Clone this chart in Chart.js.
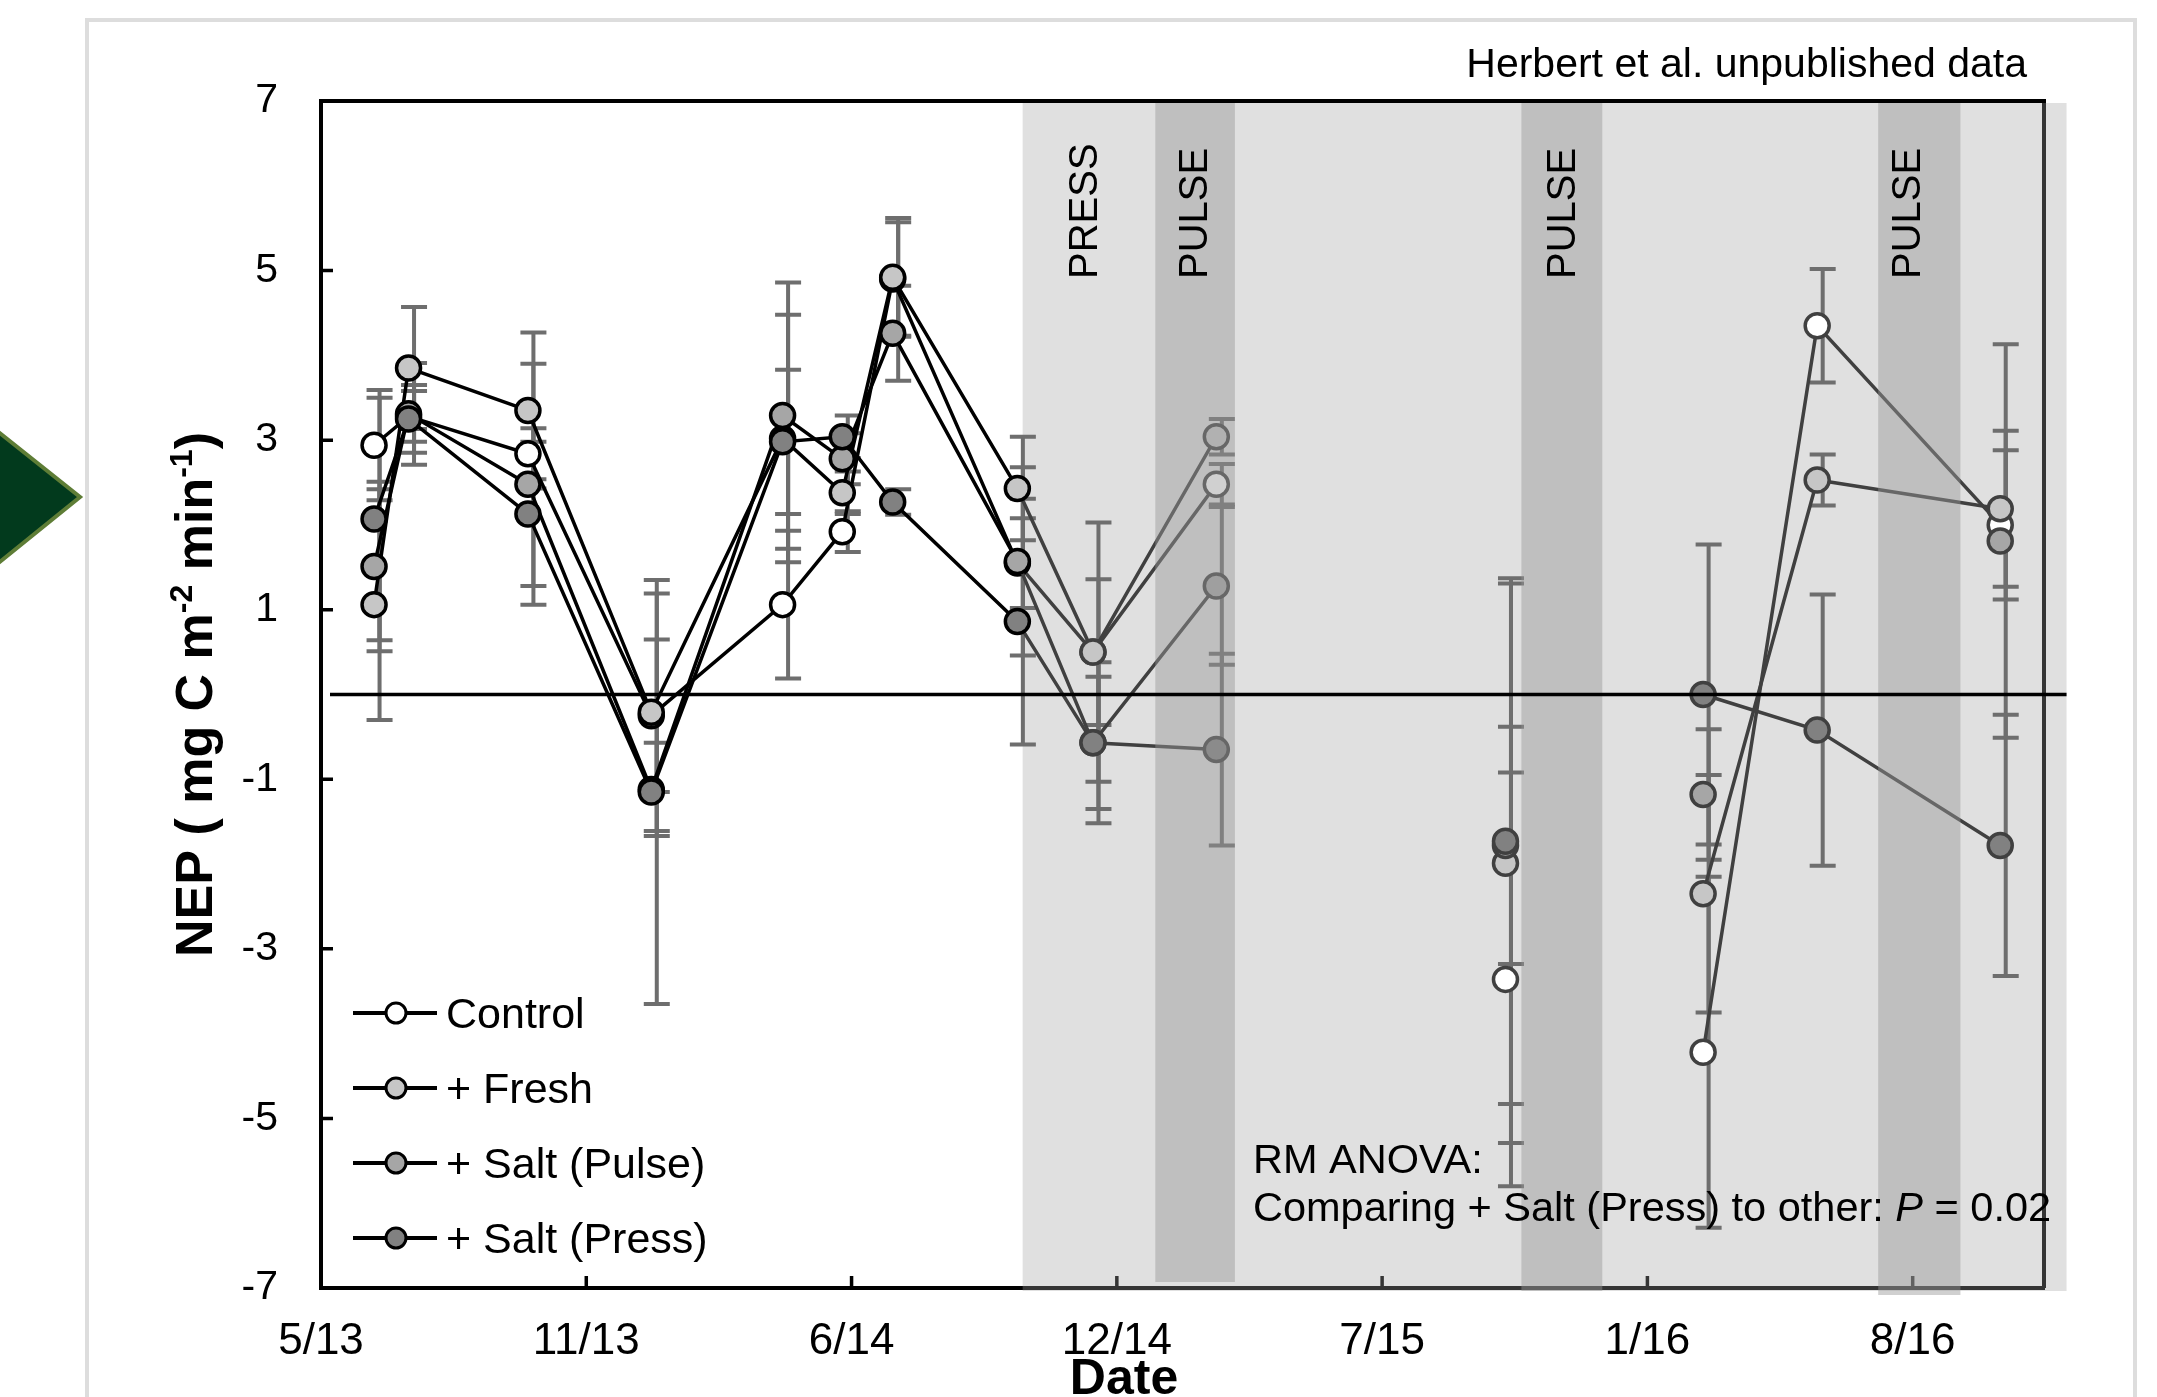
<!DOCTYPE html>
<html>
<head>
<meta charset="utf-8">
<title>NEP by treatment</title>
<script src="https://cdn.jsdelivr.net/npm/chart.js@4.4.1/dist/chart.umd.min.js"></script>
<style>
  html, body { margin: 0; padding: 0; background: #fff; }
  canvas { display: block; }
</style>
</head>
<body>
<canvas id="nepChart" width="2157" height="1397"></canvas>
<script>
// sampling dates, as days after 1 May 2013
const sampleDays = [40, 66, 156, 249, 348, 393, 431, 525, 582, 675, 893, 1042, 1128, 1266];
const dateTickDays = [0, 200, 400, 600, 800, 1000, 1200];
const dateTickLabels = ['5/13', '11/13', '6/14', '12/14', '7/15', '1/16', '8/16'];
const nepTicks = [-7, -5, -3, -1, 1, 3, 5, 7];

// NEP (mg C m-2 min-1), mean and SE per treatment
const controlNEP = [2.94, 3.28, 2.84, -0.25, 1.06, 1.92, 4.90, 1.55, 0.50, 2.48, -3.36, -4.22, 4.35, 2.00];
const freshNEP   = [1.06, 3.85, 3.35, -0.21, 3.02, 2.38, 4.92, 2.43, 0.50, 3.04, -1.99, -2.35, 2.53, 2.19];
const pulseNEP   = [1.51, 3.31, 2.48, -1.12, 3.29, 2.78, 4.26, 1.57, -0.57, 1.28, -1.78, -1.18, null, 1.81];
const pressNEP   = [2.07, 3.25, 2.13, -1.15, 2.98, 3.04, 2.27, 0.86, -0.57, -0.65, -1.73, 0.00, -0.42, -1.78];

const controlSE = [0.65, 0.30, 0.30, 0.90, 0.87, 0.24, 0.67, 0.53, 0.86, 0.24, 2.44, 2.07, 0.67, 0.88];
const freshSE   = [1.36, 0.72, 0.92, 1.40, 1.46, 0.25, 0.70, 0.61, 1.53, 0.21, 3.30, 1.40, 0.30, 0.92];
const pulseSE   = [1.00, 0.60, 1.42, 0.55, 1.57, 0.30, 0.56, 1.11, 0.78, 0.93, 1.40, 0.77, null, 2.32];
const pressSE   = [1.43, 0.40, 0.85, 2.50, 0.85, 0.25, 0.15, 1.45, 0.95, 1.13, 3.10, 1.77, 1.60, 1.54];

// sampling intervals that are not joined by a line (index of the first sample)
const breakAfter = [9, 10];

// treatment periods, in days
const pressPeriod = [529, 1316];
const pulsePeriods = [[629, 689], [905, 966], [1174, 1236]];
const periodLabels = ['PRESS', 'PULSE', 'PULSE', 'PULSE'];
const periodLabelDays = [577, 660, 937, 1197];

const FONT = "'Liberation Sans', Arial, sans-serif";

function toPoints(values) {
    return values.map((v, i) => ({ x: sampleDays[i], y: v }));
}

function makeDataset(label, values, errors, fill, order) {
    return {
        label: label,
        data: toPoints(values),
        errors: errors,
        order: order,
        borderWidth: 3.5,
        borderColor: '#000',
        backgroundColor: fill,
        pointBackgroundColor: fill,
        pointBorderColor: c => c.dataIndex >= 8 ? '#404040' : '#000',
        pointBorderWidth: 3.5,
        pointRadius: 12,
        pointHoverRadius: 12,
        tension: 0,
        spanGaps: false,
        segment: {
            borderColor: c => breakAfter.includes(c.p0DataIndex) ? 'rgba(0,0,0,0)'
                : (c.p0DataIndex >= 7 ? '#404040' : '#000')
        }
    };
}

function drawRuns(ctx, runs, x, y, align) {
    // runs: [text, size, weight, style, raise]
    let total = 0;
    runs.forEach(r => {
        ctx.font = `${r[3] || 'normal'} ${r[2] || 'normal'} ${r[1]}px ${FONT}`;
        total += ctx.measureText(r[0]).width;
    });
    let cx = align === 'center' ? x - total / 2 : x;
    ctx.textAlign = 'left';
    ctx.textBaseline = 'alphabetic';
    runs.forEach(r => {
        ctx.font = `${r[3] || 'normal'} ${r[2] || 'normal'} ${r[1]}px ${FONT}`;
        ctx.fillText(r[0], cx, y - (r[4] || 0));
        cx += ctx.measureText(r[0]).width;
    });
}

const figurePlugin = {
    id: 'figure',
    beforeDraw(chart) {
        const ctx = chart.ctx;
        ctx.save();
        ctx.strokeStyle = '#dddddd';
        ctx.lineWidth = 4;
        ctx.strokeRect(87, 20, 2048, 1420);

        ctx.beginPath();
        ctx.moveTo(-4, 430);
        ctx.lineTo(80, 497);
        ctx.lineTo(-4, 565);
        ctx.closePath();
        ctx.fillStyle = '#023a1d';
        ctx.fill();
        ctx.strokeStyle = '#5e7d36';
        ctx.lineWidth = 4;
        ctx.stroke();
        ctx.restore();
    },
    beforeDatasetsDraw(chart) {
        const { ctx, chartArea: a, scales: { x, y } } = chart;
        ctx.save();

        // top and right of the plot box
        ctx.strokeStyle = '#000';
        ctx.lineWidth = 4;
        ctx.beginPath();
        ctx.moveTo(a.left - 2, a.top);
        ctx.lineTo(a.right, a.top);
        ctx.lineTo(a.right, a.bottom);
        ctx.stroke();

        // inward tick marks
        ctx.lineWidth = 3.5;
        ctx.beginPath();
        y.ticks.forEach(t => {
            if (t.value > y.min && t.value < y.max) {
                const py = y.getPixelForValue(t.value);
                ctx.moveTo(a.left, py);
                ctx.lineTo(a.left + 12, py);
            }
        });
        x.ticks.forEach(t => {
            if (t.value > x.min) {
                const px = x.getPixelForValue(t.value);
                ctx.moveTo(px, a.bottom);
                ctx.lineTo(px, a.bottom - 12);
            }
        });
        ctx.stroke();

        // press period
        const p0 = x.getPixelForValue(pressPeriod[0]);
        const p1 = x.getPixelForValue(pressPeriod[1]);
        ctx.fillStyle = 'rgba(160,160,160,0.33)';
        ctx.fillRect(p0, a.top + 2, p1 - p0, a.bottom - a.top + 1);

        // error bars
        ctx.strokeStyle = '#6e6e6e';
        ctx.lineWidth = 4;
        chart.data.datasets.forEach((ds, di) => {
            const meta = chart.getDatasetMeta(di);
            ds.errors.forEach((e, i) => {
                const v = ds.data[i].y;
                if (v === null || e === null) return;
                const px = meta.data[i].x + 5.5;
                const top = y.getPixelForValue(v + e);
                const bot = y.getPixelForValue(v - e);
                ctx.beginPath();
                ctx.moveTo(px, top);
                ctx.lineTo(px, bot);
                ctx.moveTo(px - 13, top);
                ctx.lineTo(px + 13, top);
                ctx.moveTo(px - 13, bot);
                ctx.lineTo(px + 13, bot);
                ctx.stroke();
            });
        });
        ctx.restore();
    },
    afterDatasetsDraw(chart) {
        const { ctx, chartArea: a, scales: { x, y } } = chart;
        ctx.save();

        // pulse periods
        ctx.fillStyle = 'rgba(150,150,150,0.45)';
        pulsePeriods.forEach((p, i) => {
            const b0 = x.getPixelForValue(p[0]);
            const b1 = x.getPixelForValue(p[1]);
            const bottom = i === 0 ? a.bottom - 6 : a.bottom + 3 + 4 * (i - 1);
            ctx.fillRect(b0, a.top + 2, b1 - b0, bottom - a.top - 2);
        });

        // zero line
        ctx.strokeStyle = '#000';
        ctx.lineWidth = 3.5;
        const zy = y.getPixelForValue(0);
        ctx.beginPath();
        ctx.moveTo(a.left + 9, zy);
        ctx.lineTo(x.getPixelForValue(pressPeriod[1]), zy);
        ctx.stroke();

        // period labels
        ctx.fillStyle = '#000';
        ctx.font = `40px ${FONT}`;
        ctx.textAlign = 'left';
        ctx.textBaseline = 'middle';
        periodLabels.forEach((t, i) => {
            ctx.save();
            ctx.translate(x.getPixelForValue(periodLabelDays[i]), 279);
            ctx.rotate(-Math.PI / 2);
            ctx.fillText(t, 0, 0);
            ctx.restore();
        });

        // legend
        const rows = [1013, 1088, 1163, 1238];
        chart.data.datasets.forEach((ds, i) => {
            const ry = rows[i];
            ctx.strokeStyle = '#000';
            ctx.lineWidth = 4;
            ctx.beginPath();
            ctx.moveTo(353, ry);
            ctx.lineTo(437, ry);
            ctx.stroke();
            ctx.beginPath();
            ctx.arc(396, ry, 10, 0, Math.PI * 2);
            ctx.fillStyle = ds.backgroundColor;
            ctx.fill();
            ctx.lineWidth = 3;
            ctx.stroke();
            ctx.fillStyle = '#000';
            ctx.font = `43px ${FONT}`;
            ctx.textAlign = 'left';
            ctx.textBaseline = 'alphabetic';
            ctx.fillText(ds.label, 446, ry + 15);
        });

        // notes
        ctx.fillStyle = '#000';
        ctx.font = `41px ${FONT}`;
        ctx.textAlign = 'right';
        ctx.textBaseline = 'alphabetic';
        ctx.fillText('Herbert et al. unpublished data', 2027, 77);
        ctx.textAlign = 'left';
        ctx.font = `41.5px ${FONT}`;
        ctx.fillText('RM ANOVA:', 1253, 1173);
        drawRuns(ctx, [
            ['Comparing + Salt (Press) to other: ', 41.5],
            ['P', 41.5, 'normal', 'italic'],
            [' = 0.02', 41.5]
        ], 1253, 1221, 'left');

        // axis titles
        drawRuns(ctx, [['Date', 50, 'bold']], 1124, 1394, 'center');
        ctx.save();
        ctx.translate(212, (a.top + a.bottom) / 2);
        ctx.rotate(-Math.PI / 2);
        drawRuns(ctx, [
            ['NEP ( mg C m', 52, 'bold'],
            ['-2', 32, 'bold', 'normal', 20],
            [' min', 52, 'bold'],
            ['-1', 32, 'bold', 'normal', 20],
            [')', 52, 'bold']
        ], 0, 0, 'center');
        ctx.restore();

        ctx.restore();
    }
};

const ctx = document.getElementById('nepChart').getContext('2d');
new Chart(ctx, {
    type: 'line',
    data: {
        datasets: [
            makeDataset('Control', controlNEP, controlSE, '#ffffff', 4),
            makeDataset('+ Fresh', freshNEP, freshSE, '#c6c6c6', 3),
            makeDataset('+ Salt (Pulse)', pulseNEP, pulseSE, '#a6a6a6', 2),
            makeDataset('+ Salt (Press)', pressNEP, pressSE, '#818181', 1)
        ]
    },
    options: {
        responsive: false,
        animation: false,
        events: [],
        layout: { padding: { left: 0, top: 101, right: 113, bottom: 0 } },
        plugins: {
            legend: { display: false },
            tooltip: { enabled: false }
        },
        scales: {
            x: {
                type: 'linear',
                min: 0,
                max: 1299,
                afterBuildTicks: s => { s.ticks = dateTickDays.map(v => ({ value: v })); },
                afterFit: s => { s.height = 109; },
                grid: { display: false, drawTicks: false },
                border: { display: true, color: '#000', width: 4 },
                ticks: {
                    callback: v => dateTickLabels[dateTickDays.indexOf(v)],
                    font: { family: FONT, size: 44 },
                    color: '#000',
                    padding: 27,
                    maxRotation: 0,
                    autoSkip: false
                }
            },
            y: {
                type: 'linear',
                min: -7,
                max: 7,
                afterBuildTicks: s => { s.ticks = nepTicks.map(v => ({ value: v })); },
                afterFit: s => { s.width = 321; },
                grid: { display: false, drawTicks: false },
                border: { display: true, color: '#000', width: 4 },
                ticks: {
                    callback: v => String(v),
                    font: { family: FONT, size: 41 },
                    color: '#000',
                    padding: 43
                }
            }
        }
    },
    plugins: [figurePlugin]
});
</script>
</body>
</html>
